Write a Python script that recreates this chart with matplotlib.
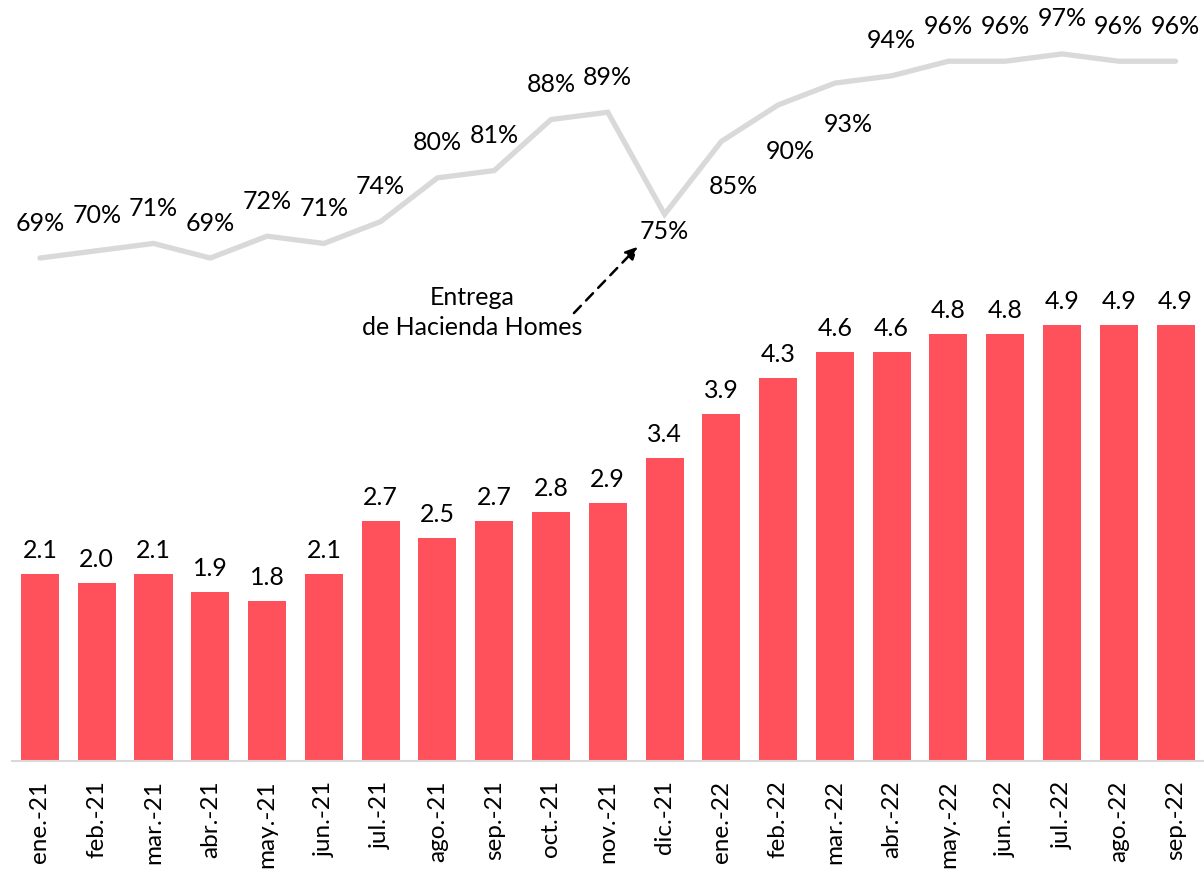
import matplotlib
matplotlib.use("Agg")
import matplotlib.pyplot as plt

meses = ["ene.-21", "feb.-21", "mar.-21", "abr.-21", "may.-21", "jun.-21",
         "jul.-21", "ago.-21", "sep.-21", "oct.-21", "nov.-21", "dic.-21",
         "ene.-22", "feb.-22", "mar.-22", "abr.-22", "may.-22", "jun.-22",
         "jul.-22", "ago.-22", "sep.-22"]
barras = [2.1, 2.0, 2.1, 1.9, 1.8, 2.1, 2.7, 2.5, 2.7, 2.8, 2.9, 3.4,
          3.9, 4.3, 4.6, 4.6, 4.8, 4.8, 4.9, 4.9, 4.9]
ocupacion = [69, 70, 71, 69, 72, 71, 74, 80, 81, 88, 89, 75,
             85, 90, 93, 94, 96, 96, 97, 96, 96]

# desplazamiento (px) de cada etiqueta del %: positivo arriba, negativo abajo
despl_etiq = [35, 35, 35, 35, 35, 35, 35, 35, 35, 35, 35, -17,
              -45, -47, -41, 35, 35, 35, 35, 35, 35]
despl_x = [0] * 12 + [12, 12, 13] + [0] * 6

plt.rcParams['font.family'] = ['Lato', 'DejaVu Sans']
ROJO = '#FF515B'
GRIS = '#D9D9D9'
FS = 18

fig = plt.figure(figsize=(12.04, 8.69), dpi=100)
ax = fig.add_axes([0.0096, 0.1243, 0.9904, 0.8757])
x = list(range(len(meses)))

ax.bar(x, barras, width=0.67, color=ROJO, zorder=2)
for i, v in enumerate(barras):
    ax.annotate(f"{v:.1f}", (i, v), xytext=(0, 12), textcoords='offset pixels',
                ha='center', va='bottom', fontsize=FS)

ax.set_xlim(-0.5, len(meses) - 0.5)
ax.set_ylim(0, 8.55)
ax.set_xticks(x)
ax.set_xticklabels(meses, rotation=90, fontsize=17.5)
ax.tick_params(axis='x', length=0, pad=14)
ax.set_yticks([])
for s in ['top', 'right', 'left']:
    ax.spines[s].set_visible(False)
ax.spines['bottom'].set_color(GRIS)
ax.spines['bottom'].set_linewidth(1.5)

ax2 = ax.twinx()
ax2.plot(x, ocupacion, color=GRIS, linewidth=3.8, solid_capstyle='round',
         solid_joinstyle='miter', zorder=3)
ax2.set_ylim(0, 104.4)
ax2.set_yticks([])
for s in ax2.spines.values():
    s.set_visible(False)
for i, v in enumerate(ocupacion):
    ax2.annotate(f"{v}%", (i, v), xytext=(despl_x[i], despl_etiq[i]),
                 textcoords='offset pixels', ha='center', va='center', fontsize=FS)

ax.annotate("", xy=(10.56, 5.80), xytext=(9.37, 5.01),
            arrowprops=dict(arrowstyle='-|>', color='black', linestyle=(0, (4, 3)),
                            linewidth=1.8, mutation_scale=18))
ax.text(7.62, 5.04, "Entrega\nde Hacienda Homes", ha='center', va='center',
        fontsize=FS, linespacing=1.4)

fig.savefig("out.png", dpi=100)
